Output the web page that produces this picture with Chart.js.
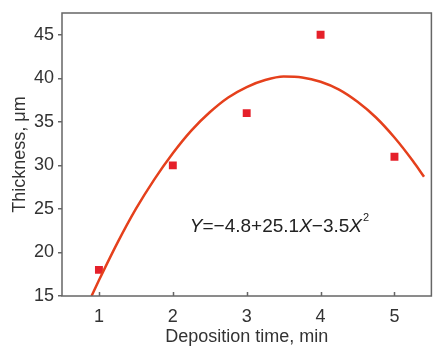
<!DOCTYPE html>
<html>
<head>
<meta charset="utf-8">
<script src="https://cdn.jsdelivr.net/npm/chart.js@4/dist/chart.umd.min.js"></script>
<style>
  html, body { margin: 0; padding: 0; background: #fff; }
  #wrap { width: 437px; height: 346px; }
</style>
</head>
<body>
<div id="wrap"><canvas id="c"></canvas></div>
<script>
// measured points
const times = [1, 2, 3, 4, 5];
const thickness = [18, 30, 36, 45, 31];

// fitted curve
const fitX = [0.9, 1.0, 1.25, 1.5, 1.75, 2.0, 2.25, 2.5, 2.75, 3.0, 3.25, 3.5, 3.75, 4.0, 4.25, 4.5, 4.75, 5.0, 5.25, 5.4];
const fitY = [15.0, 16.8, 21.1, 25.0, 28.4, 31.4, 34.0, 36.1, 37.8, 39.0, 39.8, 40.2, 40.1, 39.6, 38.7, 37.3, 35.5, 33.2, 30.5, 28.7];

const xTicks = [1, 2, 3, 4, 5];
const yTicks = [15, 20, 25, 30, 35, 40, 45];

const FONT = '"Liberation Sans", Arial, sans-serif';
const AXIS = '#666';

// box + inward x ticks + equation text
const frame = {
  id: 'frame',
  afterDraw(chart) {
    const { ctx, chartArea: a, scales: { x, y } } = chart;
    ctx.save();
    ctx.strokeStyle = AXIS;
    ctx.lineWidth = 1.5;
    ctx.strokeRect(a.left, a.top, a.right - a.left, a.bottom - a.top);
    ctx.beginPath();
    for (const t of xTicks) {
      const px = Math.round(x.getPixelForValue(t)) + 0.5;
      ctx.moveTo(px, a.bottom);
      ctx.lineTo(px, a.bottom - 4);
    }
    ctx.stroke();

    // equation
    let px = x.getPixelForValue(2.23);
    const py = y.getPixelForValue(23.0);
    ctx.fillStyle = '#222';
    ctx.textBaseline = 'middle';
    const parts = [
      ['Y', true], ['=\u22124.8+25.1', false], ['X', true], ['\u22123.5', false], ['X', true]
    ];
    for (const [s, it] of parts) {
      ctx.font = (it ? 'italic ' : '') + '19px ' + FONT;
      ctx.fillText(s, px, py);
      px += ctx.measureText(s).width;
    }
    ctx.font = '11px ' + FONT;
    ctx.fillText('2', px + 1, py - 8);
    ctx.restore();
  }
};

new Chart(document.getElementById('c'), {
  type: 'scatter',
  data: {
    datasets: [
      {
        label: 'fit',
        data: fitX.map((v, i) => ({ x: v, y: fitY[i] })),
        showLine: true,
        borderColor: '#e5401c',
        borderWidth: 2.5,
        pointRadius: 0,
        cubicInterpolationMode: 'monotone',
        fill: false,
      },
      {
        label: 'measured',
        data: times.map((v, i) => ({ x: v, y: thickness[i] })),
        backgroundColor: '#e5202a',
        borderColor: '#e5202a',
        pointStyle: 'rect',
        pointRadius: 5.6,
        borderWidth: 0,
      }
    ]
  },
  options: {
    responsive: true,
    maintainAspectRatio: false,
    animation: false,
    layout: { padding: { top: 12, right: 1, left: 0, bottom: 0 } },
    plugins: { legend: { display: false }, tooltip: { enabled: false } },
    scales: {
      x: {
        type: 'linear',
        min: 0.5,
        max: 5.5,
        afterBuildTicks: s => { s.ticks = xTicks.map(v => ({ value: v })); },
        afterFit: s => { s.height = 50; },
        grid: { display: false },
        border: { display: false },
        ticks: { color: '#333', font: { family: FONT, size: 18, lineHeight: 1 }, padding: 4 },
        title: { display: true, text: 'Deposition time, min', color: '#333', font: { family: FONT, size: 18, lineHeight: 1 }, padding: { top: 0, bottom: 0 } }
      },
      y: {
        min: 15,
        max: 47.5,
        afterBuildTicks: s => { s.ticks = yTicks.map(v => ({ value: v })); },
        afterFit: s => { s.width = 62; },
        grid: { drawOnChartArea: false, color: AXIS, tickLength: 4, lineWidth: 1.5 },
        border: { display: false },
        ticks: { color: '#333', font: { family: FONT, size: 18, lineHeight: 1 }, padding: 4 },
        title: { display: true, text: 'Thickness, \u03bcm', color: '#333', font: { family: FONT, size: 18 }, padding: { top: 9, bottom: 0 } }
      }
    }
  },
  plugins: [frame]
});
</script>
</body>
</html>
